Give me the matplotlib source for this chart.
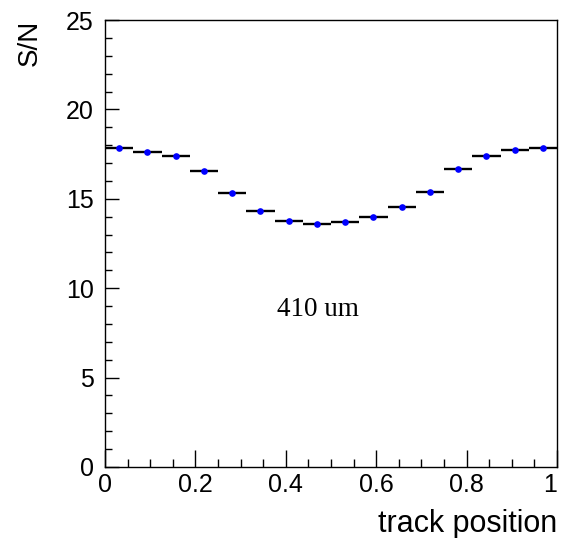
import numpy as np
import matplotlib.pyplot as plt
from matplotlib.ticker import MultipleLocator

# S/N per bin of track position (16 bins on 0..1)
n_bins = 16
bin_edges = np.linspace(0, 1, n_bins + 1)
sn = [17.86, 17.60, 17.41, 16.57, 15.31, 14.32, 13.78, 13.61,
      13.72, 13.96, 14.52, 15.36, 16.67, 17.41, 17.73, 17.86]

plt.rcParams['font.family'] = ['Liberation Sans', 'DejaVu Sans']

fig = plt.figure(figsize=(5.62, 5.38), dpi=100)
ax = fig.add_axes([105 / 562, 1 - 467 / 538, 452 / 562, 447 / 538])

centers = 0.5 * (bin_edges[:-1] + bin_edges[1:])
half_w = 0.5 * np.diff(bin_edges)
ax.errorbar(centers, sn, xerr=half_w, fmt='none', ecolor='black', elinewidth=1.7, capsize=0)
ax.plot(centers, sn, 'o', color='blue', markersize=4.8, markeredgewidth=0)

ax.set_xlim(0, 1)
ax.set_ylim(0, 25)
ax.xaxis.set_major_locator(MultipleLocator(0.2))
ax.xaxis.set_minor_locator(MultipleLocator(0.05))
ax.yaxis.set_major_locator(MultipleLocator(5))
ax.yaxis.set_minor_locator(MultipleLocator(1))
ax.set_xticks([0, 0.2, 0.4, 0.6, 0.8, 1.0])
ax.set_xticklabels(['0', '0.2', '0.4', '0.6', '0.8', '1'])
ax.get_xticklabels()[-1].set_horizontalalignment('right')
ax.tick_params(which='both', direction='in', labelsize=18, width=1, colors='black')
ax.tick_params(axis='y', which='major', length=10, pad=8)
ax.tick_params(axis='y', which='minor', length=5)
ax.tick_params(axis='x', which='major', length=12, pad=4)
ax.tick_params(axis='x', which='minor', length=6)
for s in ax.spines.values():
    s.set_linewidth(1)

ax.text(0.47, 8.8, '410 um', family=['Liberation Serif', 'DejaVu Serif'],
        fontsize=19.5, ha='center', va='center')

fig.text(30 / 562, 1 - 20 / 538, 'S/N', rotation=90, fontsize=20, ha='center', va='top')
fig.text(557 / 562, 1 - 532 / 538, 'track position', fontsize=22, ha='right', va='baseline')

fig.savefig('out.png', dpi=100)
